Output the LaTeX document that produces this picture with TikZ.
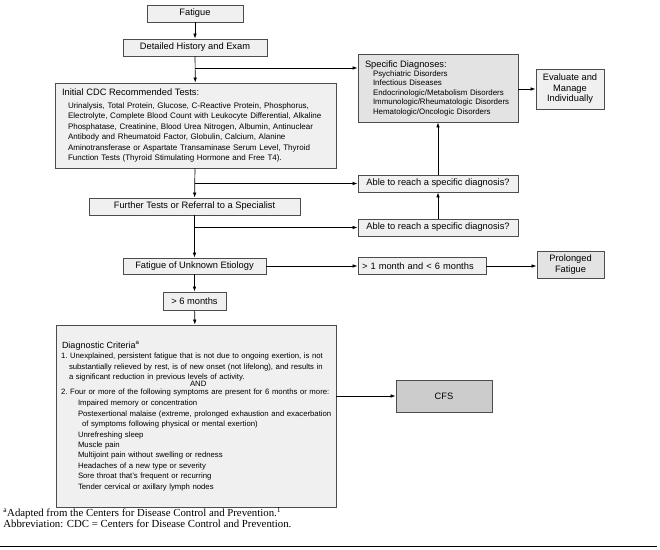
\documentclass[tikz,border=0pt]{standalone}
\usepackage{fontspec}
\setmainfont{Liberation Serif}
\setsansfont{Liberation Sans}
\usetikzlibrary{arrows.meta}

\begin{document}
\begin{tikzpicture}[x = 1pt, y = -1pt, line width = 0.7pt,
  >={Latex[length = 5pt, width = 3.6pt]},
  box/.style = {draw = black!70, line width = 0.9pt, fill = black!6, inner sep = 0pt,
    font = \sffamily\fontsize{9.3}{10.5}\selectfont},
  textbox/.style = {box, align = left, font = \sffamily\frenchspacing\fontsize{8}{10.5}\selectfont}]
\useasboundingbox (0, 0) rectangle (660, 549);

\node[box, minimum width = 96pt, minimum height = 17pt] (fat) at (195, 13.5) {Fatigue};
\node[box, minimum width = 144pt, minimum height = 17pt] (hist) at (195, 47.5) {Detailed History and Exam};

\node[textbox, text width = 267pt, inner xsep = 7pt, minimum height = 85pt] (cdc) at (195.5, 125.5)
  {{\fontsize{9.3}{10.5}\selectfont Initial CDC Recommended Tests:}\\[2pt]
   \hspace*{6pt}Urinalysis, Total Protein, Glucose, C-Reactive Protein, Phosphorus,\\
   \hspace*{6pt}Electrolyte, Complete Blood Count with Leukocyte Differential, Alkaline\\
   \hspace*{6pt}Phosphatase, Creatinine, Blood Urea Nitrogen, Albumin, Antinuclear\\
   \hspace*{6pt}Antibody and Rheumatoid Factor, Globulin, Calcium, Alanine\\
   \hspace*{6pt}Aminotransferase or Aspartate Transaminase Serum Level, Thyroid\\
   \hspace*{6pt}Function Tests (Thyroid Stimulating Hormone and Free T4).};

\node[textbox, fill = black!11, text width = 146pt, inner xsep = 7pt, minimum height = 68pt,
  font = \sffamily\fontsize{7.9}{9.4}\selectfont] (spec) at (438, 88)
  {{\fontsize{9.3}{10.5}\selectfont Specific Diagnoses:}\\
   \hspace*{8pt}Psychiatric Disorders\\
   \hspace*{8pt}Infectious Diseases\\
   \hspace*{8pt}Endocrinologic/Metabolism Disorders\\
   \hspace*{8pt}Immunologic/Rheumatologic Disorders\\
   \hspace*{8pt}Hematologic/Oncologic Disorders};

\node[box, minimum width = 68pt, minimum height = 40pt, align = center] (eval) at (570, 89)
  {Evaluate and\\Manage\\Individually};

\node[box, minimum width = 160pt, minimum height = 17pt] (able1) at (438, 183.5) {Able to reach a specific diagnosis?};
\node[box, minimum width = 211pt, minimum height = 17pt] (fur) at (194.5, 206.5) {Further Tests or Referral to a Specialist};
\node[box, minimum width = 160pt, minimum height = 17pt] (able2) at (438, 227.5) {Able to reach a specific diagnosis?};

\node[box, minimum width = 143pt, minimum height = 16pt] (unk) at (194.5, 266) {Fatigue of Unknown Etiology};
\node[box, minimum width = 128pt, minimum height = 17pt, align = left, text width = 120pt] (mon) at (422, 266)
  {> 1 month and < 6 months};
\node[box, fill = black!11, minimum width = 67pt, minimum height = 27pt, align = center] (prol) at (570.5, 264.5)
  {Prolonged\\Fatigue};
\node[box, minimum width = 63pt, minimum height = 18pt] (six) at (194.5, 301) {> 6 months};

\node[textbox, text width = 270pt, inner xsep = 5pt, minimum height = 182pt,
  font = \sffamily\frenchspacing\fontsize{7.75}{10.4}\selectfont] (diag) at (196, 416)
  {{\fontsize{9}{10.4}\selectfont \hspace*{1pt}Diagnostic Criteria\textsuperscript{a}}\\
   \mbox{1. Unexplained, persistent fatigue that is not due to ongoing exertion, is not}\\
   \mbox{\hspace*{8pt}substantially relieved by rest, is of new onset (not lifelong), and results in}\\
   \hspace*{8pt}a significant reduction in previous levels of activity.\\[-3.5pt]
   \hspace*{129pt}AND\\[-2.5pt]
   \mbox{2. Four or more of the following symptoms are present for 6 months or more:}\\[1pt]
   \hspace*{17pt}Impaired memory or concentration\\
   \mbox{\hspace*{17pt}Postexertional malaise (extreme, prolonged exhaustion and exacerbation}\\
   \hspace*{21pt}of symptoms following physical or mental exertion)\\
   \hspace*{17pt}Unrefreshing sleep\\
   \hspace*{17pt}Muscle pain\\
   \hspace*{17pt}Multijoint pain without swelling or redness\\
   \hspace*{17pt}Headaches of a new type or severity\\
   \hspace*{17pt}Sore throat that's frequent or recurring\\
   \hspace*{17pt}Tender cervical or axillary lymph nodes\\[6pt]};

\node[box, fill = black!20, minimum width = 96pt, minimum height = 32pt] (cfs) at (444, 396) {CFS};

% branch points on the main column
\coordinate (j1) at (195, 68);
\coordinate (j2) at (195, 183.5);
\coordinate (j3) at (195, 227.5);

\draw[->] (fat) -- (hist);
\draw[->] (hist) -- (cdc);
\draw[->] (j1) -- (j1 -| spec.west);
\draw[->] (cdc) -- (fur);
\draw[->] (j2) -- (able1);
\draw[->] (fur) -- (unk);
\draw[->] (j3) -- (able2);
\draw[->] (able2) -- (able1);
\draw[->] (able1) -- (spec);
\draw[->] (spec.east |- eval.west) -- (eval);
\draw[->] (unk) -- (mon);
\draw[->] (mon) -- (mon -| prol.west);
\draw[->] (unk) -- (six);
\draw[->] (six) -- (diag);
\draw[->] (diag.east |- cfs.west) -- (cfs);

\node[anchor = north west, inner sep = 0pt, align = left, font = \fontsize{10.8}{11}\selectfont] (note) at (3, 507)
  {\textsuperscript{a}Adapted from the Centers for Disease Control and Prevention.\textsuperscript{1}\\
   Abbreviation: CDC = Centers for Disease Control and Prevention.};
\draw[line width = 1pt] (0, 546) -- (657, 546);
\end{tikzpicture}
\end{document}
